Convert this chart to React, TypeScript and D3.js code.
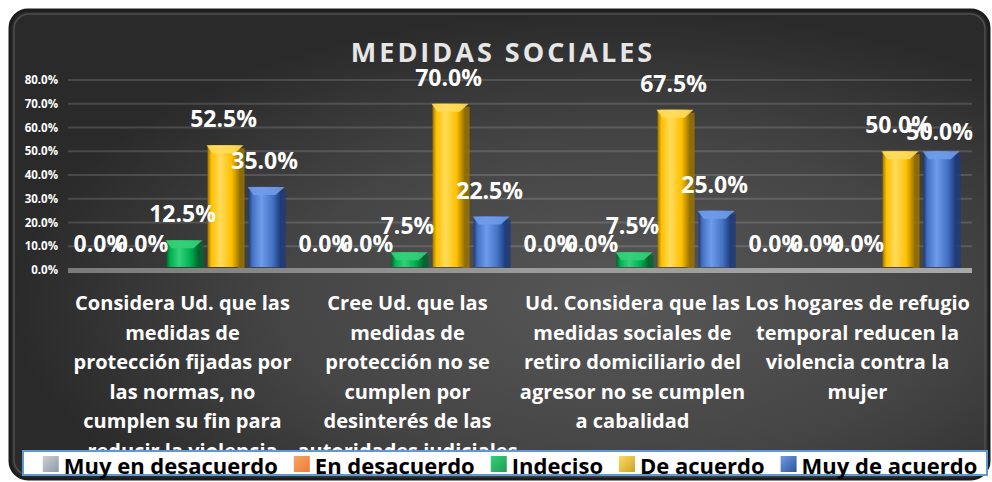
import React, { useRef, useEffect } from 'react';
import * as d3 from 'd3';

// chart data
const categories = ['Q1', 'Q2', 'Q3', 'Q4'];
const categoryLines = [
  ['Considera Ud. que las', 'medidas de', 'protección fijadas por', 'las normas, no', 'cumplen su fin para', 'reducir la violencia'],
  ['Cree Ud. que las', 'medidas de', 'protección no se', 'cumplen por', 'desinterés de las', 'autoridades judiciales'],
  ['Ud. Considera que las', 'medidas sociales de', 'retiro domiciliario del', 'agresor no se cumplen', 'a cabalidad'],
  ['Los hogares de refugio', 'temporal reducen la', 'violencia contra la', 'mujer'],
];
const seriesNames = ['Muy en desacuerdo', 'En desacuerdo', 'Indeciso', 'De acuerdo', 'Muy de acuerdo'];
const muyEnDesacuerdo = [0, 0, 0, 0];
const enDesacuerdo = [0, 0, 0, 0];
const indeciso = [0.125, 0.075, 0.075, 0];
const deAcuerdo = [0.525, 0.7, 0.675, 0.5];
const muyDeAcuerdo = [0.35, 0.225, 0.25, 0.5];
const yTicks = [0, 0.1, 0.2, 0.3, 0.4, 0.5, 0.6, 0.7, 0.8];

const seriesValues = [muyEnDesacuerdo, enDesacuerdo, indeciso, deAcuerdo, muyDeAcuerdo];

const palette = [
  { main: '#a5a5a5', light: '#cfcfcf', dark: '#626262', swatch: '#8c9aab' },
  { main: '#ed7d31', light: '#f6a56b', dark: '#9c4a14', swatch: '#ed7d31' },
  { main: '#00b050', light: '#35d07a', dark: '#00672e', swatch: '#1e9c56' },
  { main: '#ffc000', light: '#ffdb5c', dark: '#9a7300', swatch: '#c8a52a' },
  { main: '#4472c4', light: '#6f9bea', dark: '#1d3b7a', swatch: '#2f5597' },
];

const App = () => {
  const svgRef = useRef<SVGSVGElement>(null);

  useEffect(() => {
    const width = 992;
    const height = 482;
    const svg = d3.select(svgRef.current);
    svg.selectAll('*').remove();

    const font = '"Open Sans", sans-serif';
    const plotLeft = 70;
    const plotRight = 970;
    const floorY = 270;

    const x0 = d3.scaleBand<string>().domain(categories).range([plotLeft, plotRight]).padding(0);
    const x1 = d3.scaleBand<string>()
      .domain(seriesNames)
      .range([0, x0.bandwidth()])
      .paddingInner(0.22)
      .paddingOuter(0.35);
    const y = d3.scaleLinear().domain([0, 0.8]).range([floorY, 80]);

    const defs = svg.append('defs');

    const bg = defs.append('radialGradient')
      .attr('id', 'bg')
      .attr('cx', '0.62').attr('cy', '0.62').attr('r', '0.62');
    bg.append('stop').attr('offset', '0%').attr('stop-color', '#575757');
    bg.append('stop').attr('offset', '55%').attr('stop-color', '#454545');
    bg.append('stop').attr('offset', '100%').attr('stop-color', '#2a2a2a');

    palette.forEach((c, i) => {
      const g = defs.append('linearGradient').attr('id', `bar${i}`)
        .attr('x1', '0').attr('x2', '1').attr('y1', '0').attr('y2', '0');
      g.append('stop').attr('offset', '0%').attr('stop-color', c.dark);
      g.append('stop').attr('offset', '12%').attr('stop-color', c.main);
      g.append('stop').attr('offset', '40%').attr('stop-color', c.light);
      g.append('stop').attr('offset', '75%').attr('stop-color', c.main);
      g.append('stop').attr('offset', '100%').attr('stop-color', c.dark);
      const s = defs.append('linearGradient').attr('id', `sw${i}`)
        .attr('x1', '0').attr('x2', '1').attr('y1', '0').attr('y2', '1');
      s.append('stop').attr('offset', '0%').attr('stop-color', c.light);
      s.append('stop').attr('offset', '100%').attr('stop-color', c.swatch);
    });

    const floor = defs.append('linearGradient').attr('id', 'floor')
      .attr('x1', '0').attr('x2', '1');
    floor.append('stop').attr('offset', '0%').attr('stop-color', '#7a7a7a');
    floor.append('stop').attr('offset', '50%').attr('stop-color', '#9a9a9a');
    floor.append('stop').attr('offset', '100%').attr('stop-color', '#a8a8a8');

    // panel
    svg.append('rect')
      .attr('x', 10).attr('y', 10).attr('width', 979).attr('height', 469)
      .attr('rx', 18)
      .attr('fill', 'url(#bg)')
      .attr('stroke', '#1c1c1c').attr('stroke-width', 3);
    svg.append('rect')
      .attr('x', 14).attr('y', 14).attr('width', 971).attr('height', 461)
      .attr('rx', 15)
      .attr('fill', 'none')
      .attr('stroke', '#4e4e4e').attr('stroke-width', 1.5);

    // title
    svg.append('text')
      .attr('x', 503).attr('y', 62)
      .attr('text-anchor', 'middle')
      .attr('fill', '#e6e6e6')
      .style('font', `bold 27px ${font}`)
      .style('letter-spacing', '3px')
      .text('MEDIDAS SOCIALES');

    // gridlines
    svg.append('g')
      .selectAll('line')
      .data(yTicks.slice(1))
      .join('line')
      .attr('x1', plotLeft - 2).attr('x2', plotRight + 2)
      .attr('y1', d => y(d)).attr('y2', d => y(d))
      .attr('stroke', 'rgba(255,255,255,0.14)')
      .attr('stroke-width', 2);

    // floor
    svg.append('rect')
      .attr('x', plotLeft - 2).attr('y', floorY - 2)
      .attr('width', plotRight - plotLeft + 4).attr('height', 5)
      .attr('fill', 'url(#floor)');

    // y axis labels
    svg.append('g')
      .selectAll('text')
      .data(yTicks)
      .join('text')
      .attr('x', 58)
      .attr('y', d => y(d) + 4)
      .attr('text-anchor', 'end')
      .attr('fill', '#ffffff')
      .style('font', `bold 11.5px ${font}`)
      .text(d => d3.format('.1%')(d));

    // bars
    const groups = svg.append('g')
      .selectAll('g')
      .data(categories)
      .join('g')
      .attr('transform', d => `translate(${x0(d)},0)`);

    const bw = x1.bandwidth();
    groups.each(function (cat, ci) {
      const g = d3.select(this);
      seriesNames.forEach((name, si) => {
        const v = seriesValues[si][ci];
        if (v <= 0) return;
        const bx = x1(name)!;
        const top = y(v);
        const c = palette[si];
        // side
        g.append('rect')
          .attr('x', bx + bw - 2).attr('y', top + 3)
          .attr('width', 7).attr('height', floorY - 2 - top - 3)
          .attr('fill', c.dark).attr('opacity', 0.85);
        // front
        g.append('rect')
          .attr('x', bx).attr('y', top)
          .attr('width', bw).attr('height', floorY - 3 - top)
          .attr('fill', `url(#bar${si})`);
        // top bevel
        g.append('polygon')
          .attr('points', [
            [bx - 1, top], [bx + bw + 4, top], [bx + bw - 5, top + 8], [bx + 5, top + 8],
          ].map(p => p.join(',')).join(' '))
          .attr('fill', c.light).attr('opacity', 0.9);
      });
    });

    // value labels (a label that would collide with its left neighbour drops a little, as in the source)
    groups.each(function (cat, ci) {
      const g = d3.select(this);
      let prev: { x: number; y: number } | null = null;
      seriesNames.forEach((name, si) => {
        const v = seriesValues[si][ci];
        const lx = x1(name)! + bw / 2;
        let ly = y(v) - 18;
        if (prev && v > 0 && Math.abs(prev.y - ly) < 4 && lx - prev.x < 60) ly += 7;
        g.append('text')
          .attr('x', lx)
          .attr('y', ly)
          .attr('text-anchor', 'middle')
          .attr('fill', '#ffffff')
          .style('font', `bold 23px ${font}`)
          .text(d3.format('.1%')(v));
        prev = v > 0 ? { x: lx, y: ly } : null;
      });
    });

    // category labels
    svg.append('g')
      .selectAll('text')
      .data(categories)
      .join('text')
      .attr('text-anchor', 'middle')
      .attr('fill', '#ffffff')
      .style('font', `bold 20px ${font}`)
      .each(function (d, i) {
        d3.select(this)
          .selectAll('tspan')
          .data(categoryLines[i])
          .join('tspan')
          .attr('x', x0(d)! + x0.bandwidth() / 2)
          .attr('y', (_, j) => 310 + j * 29.5)
          .text(t => t);
      });

    // legend
    svg.append('rect')
      .attr('x', 23).attr('y', 451).attr('width', 964).attr('height', 24)
      .attr('fill', '#ffffff')
      .attr('stroke', '#5b9bd5').attr('stroke-width', 2);

    const legend = svg.append('g');
    let cx = 0;
    seriesNames.forEach((name, i) => {
      const item = legend.append('g').attr('transform', `translate(${cx},0)`);
      item.append('rect')
        .attr('x', 0).attr('y', 456).attr('width', 16).attr('height', 16)
        .attr('fill', `url(#sw${i})`);
      const t = item.append('text')
        .attr('x', 21).attr('y', 474)
        .attr('fill', '#000000')
        .style('font', `bold 22px ${font}`)
        .text(name);
      const w = (t.node() as SVGTextElement).getComputedTextLength();
      cx += 21 + w + 16;
    });
    const total = cx - 16;
    legend.attr('transform', `translate(${510 - total / 2},0)`);

    svg.attr('width', width).attr('height', height).attr('viewBox', [0, 0, width, height]);
  }, []);

  return (
    <svg
      ref={svgRef}
      style={{ position: 'absolute', left: 0, top: 0, background: '#ffffff' }}
    />
  );
};

export default App;
